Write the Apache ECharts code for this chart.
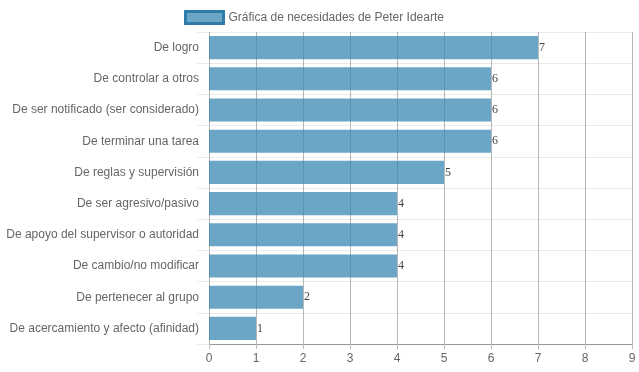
<!DOCTYPE html>
<html><head><meta charset="utf-8">
<script src="https://cdn.jsdelivr.net/npm/echarts@6/dist/echarts.min.js"></script>
<style>html,body{margin:0;padding:0;background:#fff}#c{width:639px;height:372px}</style>
</head><body><div id="c"></div>
<script>
const categories = [
  "De logro",
  "De controlar a otros",
  "De ser notificado (ser considerado)",
  "De terminar una tarea",
  "De reglas y supervisión",
  "De ser agresivo/pasivo",
  "De apoyo del supervisor o autoridad",
  "De cambio/no modificar",
  "De pertenecer al grupo",
  "De acercamiento y afecto (afinidad)"
];
const values = [7, 6, 6, 6, 5, 4, 4, 4, 2, 1];
const seriesName = "Gráfica de necesidades de Peter Idearte";
const xTicks = [0, 1, 2, 3, 4, 5, 6, 7, 8, 9];

const chart = echarts.init(document.getElementById('c'), null, {renderer: 'canvas'});
chart.setOption({
  animation: false,
  textStyle: {fontFamily: 'Liberation Sans, Arial, sans-serif'},
  legend: {
    top: 5, left: 179,
    itemWidth: 38, itemHeight: 12, itemGap: 8,
    icon: 'rect',
    textStyle: {color: '#666', fontSize: 12, fontFamily: 'Liberation Sans, Arial'},
    data: [{name: seriesName, itemStyle: {color: 'rgba(50,132,178,0.72)', borderColor: '#2f7cab', borderWidth: 3}}]
  },
  grid: {left: 209, right: 7, top: 32, bottom: 28, containLabel: false},
  xAxis: {
    type: 'value', min: xTicks[0], max: xTicks[xTicks.length - 1], interval: 1,
    axisLine: {show: true, lineStyle: {color: '#999'}},
    axisTick: {show: true, length: 5, lineStyle: {color: '#bbb'}},
    axisLabel: {color: '#666', fontSize: 12, margin: 9},
    splitLine: {show: true, lineStyle: {color: 'rgba(0,0,0,0.28)', width: 1}}
  },
  yAxis: {
    type: 'category', data: categories, inverse: true,
    axisLine: {show: false},
    axisTick: {show: true, length: 12, alignWithLabel: false, lineStyle: {color: '#ebebeb'}},
    axisLabel: {color: '#666', fontSize: 12, margin: 10},
    splitLine: {show: true, lineStyle: {color: '#ebebeb', width: 1}}
  },
  series: [{
    name: seriesName, type: 'bar', data: values,
    barCategoryGap: '26%',
    itemStyle: {color: 'rgba(50,132,178,0.72)'},
    label: {show: true, position: 'right', distance: 1, color: '#444',
      fontFamily: 'Liberation Serif, Times New Roman, serif', fontSize: 12}
  }]
});
</script></body></html>
